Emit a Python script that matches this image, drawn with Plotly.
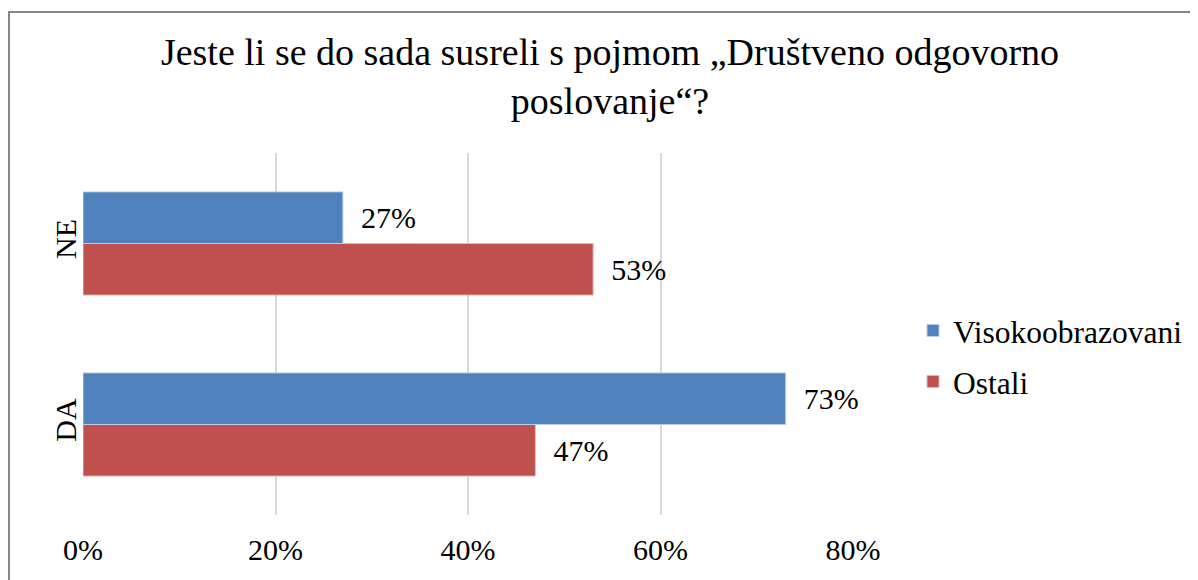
import plotly.graph_objects as go

categories = ["DA", "NE"]
series_names = ["Visokoobrazovani", "Ostali"]
visoko = [0.73, 0.27]
ostali = [0.47, 0.53]
tick_vals = [0, 0.2, 0.4, 0.6, 0.8]
tick_text = ["0%", "20%", "40%", "60%", "80%"]
title_text = "Jeste li se do sada susreli s pojmom „Društveno odgovorno<br>poslovanje“?"

BLUE = "#4F81BD"
RED = "#C0504D"
FONT = "Liberation Serif, Times New Roman, serif"

W, H = 1190, 572          # page body has an 8px margin
L, T, PW, PH = 75, 145, 770, 362

fig = go.Figure()
# Ostali added first so it sits below in each group (horizontal grouped bars)
fig.add_trace(go.Bar(
    y=categories, x=ostali, name=series_names[1], orientation="h",
    legendgroup="b", legendrank=2,
    marker=dict(color=RED, line=dict(color="#E6B9B8", width=1)),
    texttemplate="\u00a0\u00a0%{x:.0%}", textposition="outside",
    textfont=dict(family=FONT, size=30, color="black"),
    cliponaxis=False, constraintext="none",
))
fig.add_trace(go.Bar(
    y=categories, x=visoko, name=series_names[0], orientation="h",
    legendgroup="a", legendrank=1,
    marker=dict(color=BLUE, line=dict(color="#B9CDE5", width=1)),
    texttemplate="\u00a0\u00a0%{x:.0%}", textposition="outside",
    textfont=dict(family=FONT, size=30, color="black"),
    cliponaxis=False, constraintext="none",
))

fig.update_layout(
    width=W, height=H, autosize=False,
    paper_bgcolor="white", plot_bgcolor="white",
    margin=dict(l=L, r=W - L - PW, t=T, b=H - T - PH, autoexpand=False),
    barmode="group", bargap=0.43, bargroupgap=0,
    font=dict(family=FONT, color="black"),
    title=dict(text=title_text, x=602 / W, xanchor="center",
               y=1 - 57 / H, yanchor="top",
               font=dict(family=FONT, size=38, color="black")),
    legend=dict(traceorder="grouped", tracegroupgap=7,
                x=(905 - L) / PW, xanchor="left",
                y=(T + PH - 348) / PH, yanchor="middle",
                font=dict(family=FONT, size=31.5, color="black"),
                bgcolor="rgba(0,0,0,0)", itemwidth=30),
    xaxis=dict(range=[0, 0.8], tickvals=tick_vals, ticktext=tick_text,
               showgrid=True, gridcolor="#D9D9D9", gridwidth=1.5,
               zeroline=False, showline=False, ticks="",
               ticklabelstandoff=14, automargin=False,
               tickfont=dict(family=FONT, size=30, color="black")),
    yaxis=dict(range=[-0.5, 1.5], tickangle=-90, showgrid=False,
               zeroline=False, showline=False, ticks="", automargin=False,
               tickfont=dict(family=FONT, size=30, color="black")),
    shapes=[dict(type="rect", xref="paper", yref="paper",
                 x0=(1 - L) / PW, x1=(W + 10 - L) / PW,
                 y0=-(H + 10 - T - PH) / PH, y1=(T + PH - 4) / PH,
                 line=dict(color="#868686", width=2), layer="below")],
)

fig.write_html("out.html")
